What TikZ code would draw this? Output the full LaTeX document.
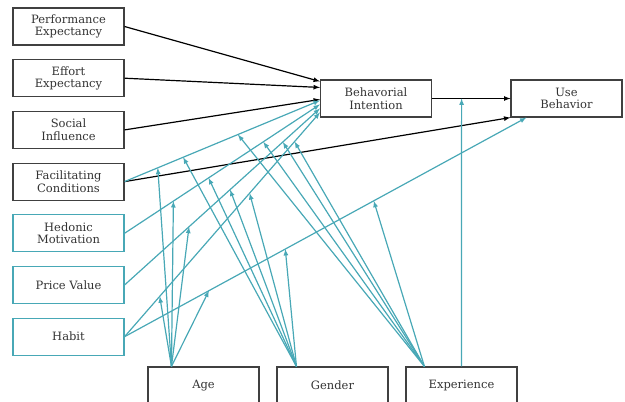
\documentclass[tikz,border=0pt]{standalone}
\usepackage{fontspec}
\setmainfont{DejaVu Serif}
\usetikzlibrary{arrows}
\definecolor{teal1}{RGB}{72,168,182}

\begin{document}
\begin{tikzpicture}[x=1pt,y=-1pt]
\tikzstyle{box} = [draw=black!75,line width=1.1pt,minimum width=111pt,minimum height=37pt,align=center,text=black!80,font=\fontsize{11.5}{12.5}\selectfont,node distance=51.7pt]
\tikzstyle{tbox} = [box,draw=teal1]
\tikzstyle{blk} = [-latex,line width=1.2pt]
\tikzstyle{mod} = [-latex,line width=1.2pt,color=teal1]

\useasboundingbox (0,0) rectangle (625,402);

\node[box] (pe) at (68.5,26.5) {Performance\\Expectancy};
\node[box,below of=pe] (ee) {Effort\\Expectancy};
\node[box,below of=ee] (si) {Social\\Influence};
\node[box,below of=si] (fc) {Facilitating\\Conditions};
\node[tbox,below of=fc] (hm) {Hedonic\\Motivation};
\node[tbox,below of=hm] (pv) {Price Value};
\node[tbox,below of=pv] (hb) {Habit};

\node[box] (bi) at (376,98.5) {Behavorial\\Intention};
\node[box,right of=bi,node distance=190.5pt] (ub) {Use\\Behavior};

\node[box] (age) at (203.5,385.5) {Age};
\node[box,right of=age,node distance=129pt] (gender) {Gender};
\node[box,right of=gender,node distance=129pt] (exp) {Experience};

% end points on the intention box
\coordinate (bi1) at ([yshift=-2pt]bi.north west);
\coordinate (bi2) at ([yshift=-8pt]bi.north west);
\coordinate (bi3) at ([yshift=-20pt]bi.north west);
\coordinate (bi4) at ([yshift=-21pt]bi.north west);
\coordinate (bi5) at ([yshift=-25pt]bi.north west);
\coordinate (bi6) at ([yshift=-29pt]bi.north west);
\coordinate (bi7) at ([yshift=-33pt]bi.north west);
\coordinate (ub1) at ([xshift=16pt]ub.south west);

% moderator start points
\coordinate (a0) at ([xshift=24pt]age.north west);
\coordinate (g0) at ([xshift=20pt]gender.north west);
\coordinate (e0) at ([xshift=19pt]exp.north west);

\draw[blk] (pe.east) -- (bi1);
\draw[blk] (ee.east) -- (bi2);
\draw[blk] (si.east) -- (bi3);
\draw[blk] (fc.east) -- (ub.south west);
\draw[blk] (bi.east) -- (ub.west) coordinate[pos=0.377] (bu1);

\draw[mod] (fc.east) -- (bi4) coordinate[pos=0.17] (fc1) coordinate[pos=0.30] (fc2) coordinate[pos=0.58] (fc3);
\draw[mod] (hm.east) -- (bi5) coordinate[pos=0.25] (hm1) coordinate[pos=0.43] (hm2) coordinate[pos=0.71] (hm3);
\draw[mod] (pv.east) -- (bi6) coordinate[pos=0.33] (pv1) coordinate[pos=0.54] (pv2) coordinate[pos=0.81] (pv3);
\draw[mod] (hb.east) -- (bi7) coordinate[pos=0.18] (hb1) coordinate[pos=0.64] (hb2) coordinate[pos=0.87] (hb3);
\draw[mod] (hb.east) -- (ub1) coordinate[pos=0.21] (hu1) coordinate[pos=0.40] (hu2) coordinate[pos=0.62] (hu3);

\draw[mod] (a0) -- (fc1);
\draw[mod] (a0) -- (hm1);
\draw[mod] (a0) -- (pv1);
\draw[mod] (a0) -- (hb1);
\draw[mod] (a0) -- (hu1);

\draw[mod] (g0) -- (fc2);
\draw[mod] (g0) -- (hm2);
\draw[mod] (g0) -- (pv2);
\draw[mod] (g0) -- (hb2);
\draw[mod] (g0) -- (hu2);

\draw[mod] (e0) -- (fc3);
\draw[mod] (e0) -- (hm3);
\draw[mod] (e0) -- (pv3);
\draw[mod] (e0) -- (hb3);
\draw[mod] (e0) -- (hu3);
\draw[mod] (exp.north) -- (bu1);

\end{tikzpicture}
\end{document}
